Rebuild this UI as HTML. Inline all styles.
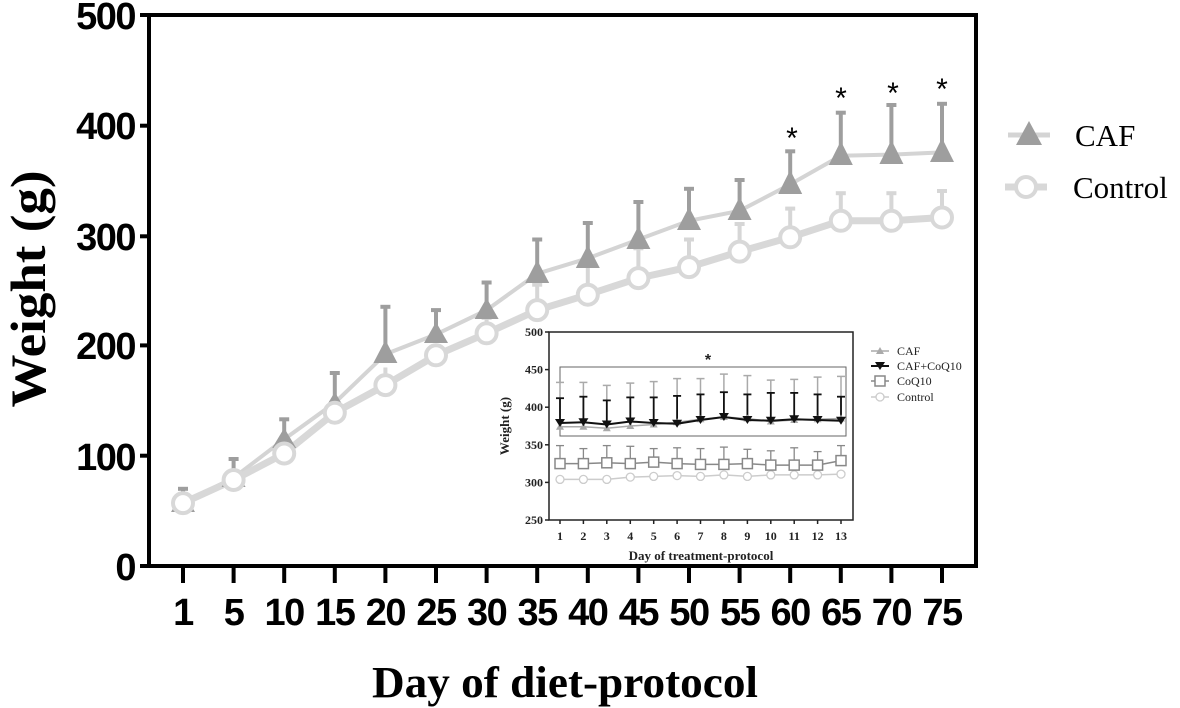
<!DOCTYPE html>
<html><head><meta charset="utf-8"><style>html,body{margin:0;padding:0;background:#fff}svg{display:block}</style></head><body>
<svg width="1180" height="708" viewBox="0 0 1180 708" xmlns="http://www.w3.org/2000/svg">
<g stroke="#000" stroke-width="4" fill="none">
<line x1="149" y1="15" x2="977" y2="15"/>
<line x1="149" y1="13" x2="149" y2="568"/>
<line x1="976" y1="13" x2="976" y2="568"/>
<line x1="140" y1="566" x2="978" y2="566"/>
<line x1="140" y1="15" x2="149" y2="15"/><line x1="140" y1="125.7" x2="149" y2="125.7"/><line x1="140" y1="236.3" x2="149" y2="236.3"/><line x1="140" y1="345.4" x2="149" y2="345.4"/><line x1="140" y1="455.7" x2="149" y2="455.7"/>
</g>
<g stroke="#000" stroke-width="4">
<line x1="183" y1="566" x2="183" y2="583"/><line x1="233.6" y1="566" x2="233.6" y2="583"/><line x1="284.2" y1="566" x2="284.2" y2="583"/><line x1="334.8" y1="566" x2="334.8" y2="583"/><line x1="385.4" y1="566" x2="385.4" y2="583"/><line x1="436" y1="566" x2="436" y2="583"/><line x1="486.6" y1="566" x2="486.6" y2="583"/><line x1="537.2" y1="566" x2="537.2" y2="583"/><line x1="587.8" y1="566" x2="587.8" y2="583"/><line x1="638.4" y1="566" x2="638.4" y2="583"/><line x1="689" y1="566" x2="689" y2="583"/><line x1="739.6" y1="566" x2="739.6" y2="583"/><line x1="790.2" y1="566" x2="790.2" y2="583"/><line x1="840.8" y1="566" x2="840.8" y2="583"/><line x1="891.4" y1="566" x2="891.4" y2="583"/><line x1="942" y1="566" x2="942" y2="583"/>
</g>
<g font-family="Liberation Sans, sans-serif" font-weight="bold" font-size="38" text-anchor="end" letter-spacing="-1.5">
<text x="135" y="29">500</text><text x="135" y="139">400</text><text x="135" y="250">300</text><text x="135" y="359">200</text><text x="135" y="470">100</text><text x="135" y="580">0</text>
</g>
<g font-family="Liberation Sans, sans-serif" font-weight="bold" font-size="38" text-anchor="middle" letter-spacing="-1.5">
<text x="183" y="625">1</text><text x="233.6" y="625">5</text><text x="284.2" y="625">10</text><text x="334.8" y="625">15</text><text x="385.4" y="625">20</text><text x="436" y="625">25</text><text x="486.6" y="625">30</text><text x="537.2" y="625">35</text><text x="587.8" y="625">40</text><text x="638.4" y="625">45</text><text x="689" y="625">50</text><text x="739.6" y="625">55</text><text x="790.2" y="625">60</text><text x="840.8" y="625">65</text><text x="891.4" y="625">70</text><text x="942" y="625">75</text>
</g>
<text x="565" y="697" font-family="Liberation Serif, serif" font-weight="bold" font-size="44" text-anchor="middle" textLength="386" lengthAdjust="spacingAndGlyphs">Day of diet-protocol</text>
<text transform="translate(45,289) rotate(-90)" font-family="Liberation Serif, serif" font-weight="bold" font-size="50" text-anchor="middle" textLength="237" lengthAdjust="spacingAndGlyphs">Weight (g)</text>

<g stroke="#9e9e9e" stroke-width="4">
<line x1="183" y1="503" x2="183" y2="488.8"/><line x1="233.6" y1="478" x2="233.6" y2="459"/><line x1="284.2" y1="439" x2="284.2" y2="419.3"/><line x1="334.8" y1="403" x2="334.8" y2="373"/><line x1="385.4" y1="354" x2="385.4" y2="306.8"/><line x1="436" y1="334" x2="436" y2="310.1"/><line x1="486.6" y1="310" x2="486.6" y2="282.5"/><line x1="537.2" y1="274" x2="537.2" y2="239.5"/><line x1="587.8" y1="258" x2="587.8" y2="223"/><line x1="638.4" y1="240" x2="638.4" y2="202"/><line x1="689" y1="221" x2="689" y2="188.8"/><line x1="739.6" y1="211" x2="739.6" y2="180"/><line x1="790.2" y1="184" x2="790.2" y2="151.3"/><line x1="840.8" y1="156" x2="840.8" y2="112.7"/><line x1="891.4" y1="155" x2="891.4" y2="105"/><line x1="942" y1="152" x2="942" y2="103.8"/>
<line x1="178" y1="488.8" x2="188" y2="488.8"/><line x1="228.6" y1="459" x2="238.6" y2="459"/><line x1="279.2" y1="419.3" x2="289.2" y2="419.3"/><line x1="329.8" y1="373" x2="339.8" y2="373"/><line x1="380.4" y1="306.8" x2="390.4" y2="306.8"/><line x1="431" y1="310.1" x2="441" y2="310.1"/><line x1="481.6" y1="282.5" x2="491.6" y2="282.5"/><line x1="532.2" y1="239.5" x2="542.2" y2="239.5"/><line x1="582.8" y1="223" x2="592.8" y2="223"/><line x1="633.4" y1="202" x2="643.4" y2="202"/><line x1="684" y1="188.8" x2="694" y2="188.8"/><line x1="734.6" y1="180" x2="744.6" y2="180"/><line x1="785.2" y1="151.3" x2="795.2" y2="151.3"/><line x1="835.8" y1="112.7" x2="845.8" y2="112.7"/><line x1="886.4" y1="105" x2="896.4" y2="105"/><line x1="937" y1="103.8" x2="947" y2="103.8"/>
</g>
<g stroke="#d6d6d6" stroke-width="4">
<line x1="183" y1="503" x2="183" y2="497.6"/><line x1="233.6" y1="480" x2="233.6" y2="474.5"/><line x1="284.2" y1="453" x2="284.2" y2="444.7"/><line x1="334.8" y1="413" x2="334.8" y2="400.5"/><line x1="385.4" y1="385" x2="385.4" y2="367.5"/><line x1="436" y1="355" x2="436" y2="345.4"/><line x1="486.6" y1="333" x2="486.6" y2="317.8"/><line x1="537.2" y1="310" x2="537.2" y2="284.7"/><line x1="587.8" y1="295" x2="587.8" y2="260.5"/><line x1="638.4" y1="278" x2="638.4" y2="248.3"/><line x1="689" y1="267" x2="689" y2="239.5"/><line x1="739.6" y1="252" x2="739.6" y2="224"/><line x1="790.2" y1="237" x2="790.2" y2="208.6"/><line x1="840.8" y1="221" x2="840.8" y2="193.2"/><line x1="891.4" y1="221" x2="891.4" y2="193.2"/><line x1="942" y1="217" x2="942" y2="191"/>
<line x1="785.2" y1="208.6" x2="795.2" y2="208.6"/><line x1="835.8" y1="193.2" x2="845.8" y2="193.2"/><line x1="886.4" y1="193.2" x2="896.4" y2="193.2"/><line x1="937" y1="191" x2="947" y2="191"/><line x1="734.6" y1="224" x2="744.6" y2="224"/><line x1="684" y1="239.5" x2="694" y2="239.5"/><line x1="633.4" y1="248.3" x2="643.4" y2="248.3"/><line x1="582.8" y1="260.5" x2="592.8" y2="260.5"/><line x1="532.2" y1="284.7" x2="542.2" y2="284.7"/><line x1="481.6" y1="317.8" x2="491.6" y2="317.8"/>
</g>
<polyline fill="none" stroke="#d4d4d4" stroke-width="4" points="183,503.1 233.6,477.8 284.2,439.2 334.8,402.8 385.4,354.2 436,334.4 486.6,310.1 537.2,273.7 587.8,258.3 638.4,239.5 689,220.8 739.6,210.8 790.2,184.4 840.8,155.7 891.4,154.6 942,152.4"/>
<polyline fill="none" stroke="#d8d8d8" stroke-width="7" points="183,503.1 233.6,480 284.2,453.5 334.8,412.7 385.4,385.1 436,355.3 486.6,333.3 537.2,310.1 587.8,294.7 638.4,278.1 689,267.1 739.6,251.6 790.2,237.3 840.8,220.8 891.4,220.8 942,217.5"/>
<g fill="#9e9e9e">
<path d="M183,492 l-12,20 h24z"/><path d="M233.6,467 l-12,20 h24z"/><path d="M284.2,428 l-12,20 h24z"/><path d="M334.8,392 l-12,20 h24z"/><path d="M385.4,340 l-12,23 h24z"/><path d="M436,322 l-12,21 h24z"/><path d="M486.6,298 l-12,21 h24z"/><path d="M537.2,260 l-12,23 h24z"/><path d="M587.8,245 l-12,23 h24z"/><path d="M638.4,226 l-12,23 h24z"/><path d="M689,207 l-12,23 h24z"/><path d="M739.6,197 l-12,23 h24z"/><path d="M790.2,170 l-12,24 h24z"/><path d="M840.8,141 l-12,24 h24z"/><path d="M891.4,140 l-12,24 h24z"/><path d="M942,138 l-12,24 h24z"/>
</g>
<g fill="#fff" stroke="#d8d8d8" stroke-width="4">
<circle cx="183" cy="503.1" r="10"/><circle cx="233.6" cy="480" r="10"/><circle cx="284.2" cy="453.5" r="10"/><circle cx="334.8" cy="412.7" r="10"/><circle cx="385.4" cy="385.1" r="10"/><circle cx="436" cy="355.3" r="10"/><circle cx="486.6" cy="333.3" r="10"/><circle cx="537.2" cy="310.1" r="10"/><circle cx="587.8" cy="294.7" r="10"/><circle cx="638.4" cy="278.1" r="10"/><circle cx="689" cy="267.1" r="10"/><circle cx="739.6" cy="251.6" r="10"/><circle cx="790.2" cy="237.3" r="10"/><circle cx="840.8" cy="220.8" r="10"/><circle cx="891.4" cy="220.8" r="10"/><circle cx="942" cy="217.5" r="10"/>
</g>
<g font-family="Liberation Sans, sans-serif" font-size="30" text-anchor="middle" fill="#000">
<text x="792" y="148">*</text><text x="841" y="108">*</text><text x="893" y="103">*</text><text x="942" y="99">*</text>
</g>
<line x1="1008" y1="135" x2="1050" y2="135" stroke="#d4d4d4" stroke-width="5"/>
<path d="M1029,121 l-13,24 h26z" fill="#9e9e9e"/>
<text x="1075" y="146" font-family="Liberation Serif, serif" font-size="31">CAF</text>
<line x1="1005" y1="187" x2="1047" y2="187" stroke="#d8d8d8" stroke-width="7"/>
<circle cx="1026" cy="187" r="10" fill="#fff" stroke="#d8d8d8" stroke-width="4"/>
<text x="1073" y="198" font-family="Liberation Serif, serif" font-size="31">Control</text>

<rect x="549" y="332" width="304" height="188" fill="#fff" stroke="#222" stroke-width="1.5"/>
<rect x="560" y="367" width="286" height="69" fill="none" stroke="#666" stroke-width="1"/>
<g stroke="#222" stroke-width="1.5">
<line x1="545" y1="520" x2="549" y2="520"/><line x1="545" y1="482.4" x2="549" y2="482.4"/><line x1="545" y1="444.8" x2="549" y2="444.8"/><line x1="545" y1="407.2" x2="549" y2="407.2"/><line x1="545" y1="369.6" x2="549" y2="369.6"/><line x1="545" y1="332" x2="549" y2="332"/>
<line x1="560" y1="520" x2="560" y2="524"/><line x1="583.4" y1="520" x2="583.4" y2="524"/><line x1="606.8" y1="520" x2="606.8" y2="524"/><line x1="630.3" y1="520" x2="630.3" y2="524"/><line x1="653.7" y1="520" x2="653.7" y2="524"/><line x1="677.1" y1="520" x2="677.1" y2="524"/><line x1="700.5" y1="520" x2="700.5" y2="524"/><line x1="723.9" y1="520" x2="723.9" y2="524"/><line x1="747.4" y1="520" x2="747.4" y2="524"/><line x1="770.8" y1="520" x2="770.8" y2="524"/><line x1="794.2" y1="520" x2="794.2" y2="524"/><line x1="817.6" y1="520" x2="817.6" y2="524"/><line x1="841" y1="520" x2="841" y2="524"/>
</g>
<g font-family="Liberation Serif, serif" font-weight="bold" font-size="12" text-anchor="end" fill="#222">
<text x="543" y="524">250</text><text x="543" y="486.4">300</text><text x="543" y="448.8">350</text><text x="543" y="411.2">400</text><text x="543" y="373.6">450</text><text x="543" y="336">500</text>
</g>
<g font-family="Liberation Serif, serif" font-weight="bold" font-size="12" text-anchor="middle" fill="#222">
<text x="560" y="540">1</text><text x="583.4" y="540">2</text><text x="606.8" y="540">3</text><text x="630.3" y="540">4</text><text x="653.7" y="540">5</text><text x="677.1" y="540">6</text><text x="700.5" y="540">7</text><text x="723.9" y="540">8</text><text x="747.4" y="540">9</text><text x="770.8" y="540">10</text><text x="794.2" y="540">11</text><text x="817.6" y="540">12</text><text x="841" y="540">13</text>
<text x="701" y="560" font-size="13">Day of treatment-protocol</text>
<text transform="translate(509,426) rotate(-90)" font-size="13">Weight (g)</text>
<text x="708" y="365" font-size="16" font-family="Liberation Sans, sans-serif">*</text>
</g>
<g stroke="#aaa" stroke-width="1.5">
<line x1="560" y1="427" x2="560" y2="382.4"/><line x1="583.4" y1="427" x2="583.4" y2="382.4"/><line x1="606.8" y1="428" x2="606.8" y2="385.4"/><line x1="630.3" y1="426" x2="630.3" y2="383.1"/><line x1="653.7" y1="424" x2="653.7" y2="381.6"/><line x1="677.1" y1="422" x2="677.1" y2="378.6"/><line x1="700.5" y1="419" x2="700.5" y2="378.6"/><line x1="723.9" y1="417" x2="723.9" y2="374.1"/><line x1="747.4" y1="418" x2="747.4" y2="375.6"/><line x1="770.8" y1="421" x2="770.8" y2="380.1"/><line x1="794.2" y1="420" x2="794.2" y2="379.4"/><line x1="817.6" y1="419" x2="817.6" y2="377.1"/><line x1="841" y1="418" x2="841" y2="376.4"/>
<line x1="556" y1="382.4" x2="564" y2="382.4"/><line x1="579.4" y1="382.4" x2="587.4" y2="382.4"/><line x1="602.8" y1="385.4" x2="610.8" y2="385.4"/><line x1="626.3" y1="383.1" x2="634.3" y2="383.1"/><line x1="649.7" y1="381.6" x2="657.7" y2="381.6"/><line x1="673.1" y1="378.6" x2="681.1" y2="378.6"/><line x1="696.5" y1="378.6" x2="704.5" y2="378.6"/><line x1="719.9" y1="374.1" x2="727.9" y2="374.1"/><line x1="743.4" y1="375.6" x2="751.4" y2="375.6"/><line x1="766.8" y1="380.1" x2="774.8" y2="380.1"/><line x1="790.2" y1="379.4" x2="798.2" y2="379.4"/><line x1="813.6" y1="377.1" x2="821.6" y2="377.1"/><line x1="837" y1="376.4" x2="845" y2="376.4"/>
</g>
<g stroke="#111" stroke-width="1.8">
<line x1="560" y1="423" x2="560" y2="398.2"/><line x1="583.4" y1="422" x2="583.4" y2="396.7"/><line x1="606.8" y1="424" x2="606.8" y2="400.4"/><line x1="630.3" y1="421" x2="630.3" y2="397.4"/><line x1="653.7" y1="423" x2="653.7" y2="397.4"/><line x1="677.1" y1="423" x2="677.1" y2="395.9"/><line x1="700.5" y1="420" x2="700.5" y2="394.4"/><line x1="723.9" y1="417" x2="723.9" y2="392.2"/><line x1="747.4" y1="420" x2="747.4" y2="394.4"/><line x1="770.8" y1="420" x2="770.8" y2="392.9"/><line x1="794.2" y1="419" x2="794.2" y2="392.9"/><line x1="817.6" y1="420" x2="817.6" y2="394.4"/><line x1="841" y1="420" x2="841" y2="396.7"/>
<line x1="556" y1="398.2" x2="564" y2="398.2"/><line x1="579.4" y1="396.7" x2="587.4" y2="396.7"/><line x1="602.8" y1="400.4" x2="610.8" y2="400.4"/><line x1="626.3" y1="397.4" x2="634.3" y2="397.4"/><line x1="649.7" y1="397.4" x2="657.7" y2="397.4"/><line x1="673.1" y1="395.9" x2="681.1" y2="395.9"/><line x1="696.5" y1="394.4" x2="704.5" y2="394.4"/><line x1="719.9" y1="392.2" x2="727.9" y2="392.2"/><line x1="743.4" y1="394.4" x2="751.4" y2="394.4"/><line x1="766.8" y1="392.9" x2="774.8" y2="392.9"/><line x1="790.2" y1="392.9" x2="798.2" y2="392.9"/><line x1="813.6" y1="394.4" x2="821.6" y2="394.4"/><line x1="837" y1="396.7" x2="845" y2="396.7"/>
</g>
<g stroke="#888" stroke-width="1.3">
<line x1="560" y1="463" x2="560" y2="445.6"/><line x1="583.4" y1="463" x2="583.4" y2="448.6"/><line x1="606.8" y1="463" x2="606.8" y2="445.6"/><line x1="630.3" y1="463" x2="630.3" y2="446.3"/><line x1="653.7" y1="462" x2="653.7" y2="448.6"/><line x1="677.1" y1="463" x2="677.1" y2="447.8"/><line x1="700.5" y1="464" x2="700.5" y2="448.6"/><line x1="723.9" y1="464" x2="723.9" y2="447.1"/><line x1="747.4" y1="463" x2="747.4" y2="449.3"/><line x1="770.8" y1="465" x2="770.8" y2="450.8"/><line x1="794.2" y1="465" x2="794.2" y2="447.8"/><line x1="817.6" y1="465" x2="817.6" y2="451.6"/><line x1="841" y1="460" x2="841" y2="445.6"/>
<line x1="556" y1="445.6" x2="564" y2="445.6"/><line x1="579.4" y1="448.6" x2="587.4" y2="448.6"/><line x1="602.8" y1="445.6" x2="610.8" y2="445.6"/><line x1="626.3" y1="446.3" x2="634.3" y2="446.3"/><line x1="649.7" y1="448.6" x2="657.7" y2="448.6"/><line x1="673.1" y1="447.8" x2="681.1" y2="447.8"/><line x1="696.5" y1="448.6" x2="704.5" y2="448.6"/><line x1="719.9" y1="447.1" x2="727.9" y2="447.1"/><line x1="743.4" y1="449.3" x2="751.4" y2="449.3"/><line x1="766.8" y1="450.8" x2="774.8" y2="450.8"/><line x1="790.2" y1="447.8" x2="798.2" y2="447.8"/><line x1="813.6" y1="451.6" x2="821.6" y2="451.6"/><line x1="837" y1="445.6" x2="845" y2="445.6"/>
</g>
<polyline fill="none" stroke="#ccc" stroke-width="1.5" points="560,479.4 583.4,479.4 606.8,479.4 630.3,477.1 653.7,476.4 677.1,475.6 700.5,476.4 723.9,474.9 747.4,476.4 770.8,474.9 794.2,474.9 817.6,474.9 841,474.1"/>
<g fill="#fff" stroke="#ccc" stroke-width="1.3">
<circle cx="560" cy="479.4" r="4"/><circle cx="583.4" cy="479.4" r="4"/><circle cx="606.8" cy="479.4" r="4"/><circle cx="630.3" cy="477.1" r="4"/><circle cx="653.7" cy="476.4" r="4"/><circle cx="677.1" cy="475.6" r="4"/><circle cx="700.5" cy="476.4" r="4"/><circle cx="723.9" cy="474.9" r="4"/><circle cx="747.4" cy="476.4" r="4"/><circle cx="770.8" cy="474.9" r="4"/><circle cx="794.2" cy="474.9" r="4"/><circle cx="817.6" cy="474.9" r="4"/><circle cx="841" cy="474.1" r="4"/>
</g>
<polyline fill="none" stroke="#888" stroke-width="1.5" points="560,463.6 583.4,463.6 606.8,462.8 630.3,463.6 653.7,462.1 677.1,463.6 700.5,464.4 723.9,464.4 747.4,463.6 770.8,465.1 794.2,465.1 817.6,465.1 841,460.6"/>
<g fill="#fff" stroke="#888" stroke-width="1.5">
<rect x="555" y="458.6" width="10" height="10"/><rect x="578.4" y="458.6" width="10" height="10"/><rect x="601.8" y="457.8" width="10" height="10"/><rect x="625.3" y="458.6" width="10" height="10"/><rect x="648.7" y="457.1" width="10" height="10"/><rect x="672.1" y="458.6" width="10" height="10"/><rect x="695.5" y="459.4" width="10" height="10"/><rect x="718.9" y="459.4" width="10" height="10"/><rect x="742.4" y="458.6" width="10" height="10"/><rect x="765.8" y="460.1" width="10" height="10"/><rect x="789.2" y="460.1" width="10" height="10"/><rect x="812.6" y="460.1" width="10" height="10"/><rect x="836" y="455.6" width="10" height="10"/>
</g>
<polyline fill="none" stroke="#aaa" stroke-width="1.5" points="560,426.8 583.4,426.8 606.8,428.3 630.3,426 653.7,424.5 677.1,422.2 700.5,419.2 723.9,417 747.4,418.5 770.8,421.5 794.2,420 817.6,419.2 841,418.5"/>
<g fill="#aaa">
<path d="M560,422.8 l-4,7 h8z"/><path d="M583.4,422.8 l-4,7 h8z"/><path d="M606.8,424.3 l-4,7 h8z"/><path d="M630.3,422 l-4,7 h8z"/><path d="M653.7,420.5 l-4,7 h8z"/><path d="M677.1,418.2 l-4,7 h8z"/><path d="M700.5,415.2 l-4,7 h8z"/><path d="M723.9,413 l-4,7 h8z"/><path d="M747.4,414.5 l-4,7 h8z"/><path d="M770.8,417.5 l-4,7 h8z"/><path d="M794.2,416 l-4,7 h8z"/><path d="M817.6,415.2 l-4,7 h8z"/><path d="M841,414.5 l-4,7 h8z"/>
</g>
<polyline fill="none" stroke="#111" stroke-width="2" points="560,423 583.4,422.2 606.8,424.5 630.3,421.5 653.7,423 677.1,423.7 700.5,420 723.9,417 747.4,420 770.8,420.7 794.2,419.2 817.6,420 841,420.7"/>
<g fill="#111">
<path d="M555,419 h10 l-5,8z"/><path d="M578.4,418.2 h10 l-5,8z"/><path d="M601.8,420.5 h10 l-5,8z"/><path d="M625.3,417.5 h10 l-5,8z"/><path d="M648.7,419 h10 l-5,8z"/><path d="M672.1,419.7 h10 l-5,8z"/><path d="M695.5,416 h10 l-5,8z"/><path d="M718.9,413 h10 l-5,8z"/><path d="M742.4,416 h10 l-5,8z"/><path d="M765.8,416.7 h10 l-5,8z"/><path d="M789.2,415.2 h10 l-5,8z"/><path d="M812.6,416 h10 l-5,8z"/><path d="M836,416.7 h10 l-5,8z"/>
</g>
<line x1="871" y1="351" x2="889" y2="351" stroke="#aaa" stroke-width="1.5"/><path d="M880,347 l-4,7 h8z" fill="#aaa"/>
<line x1="871" y1="366" x2="889" y2="366" stroke="#111" stroke-width="2"/><path d="M875,362 h10 l-5,8z" fill="#111"/>
<line x1="871" y1="381" x2="889" y2="381" stroke="#888" stroke-width="1.5"/><rect x="875" y="376" width="10" height="10" fill="#fff" stroke="#888" stroke-width="1.5"/>
<line x1="871" y1="397" x2="889" y2="397" stroke="#ccc" stroke-width="1.5"/><circle cx="880" cy="397" r="4" fill="#fff" stroke="#ccc" stroke-width="1.3"/>
<g font-family="Liberation Serif, serif" font-size="12" fill="#222">
<text x="897" y="355">CAF</text><text x="897" y="370">CAF+CoQ10</text><text x="897" y="385">CoQ10</text><text x="897" y="401">Control</text>
</g>
</svg>
</body></html>
